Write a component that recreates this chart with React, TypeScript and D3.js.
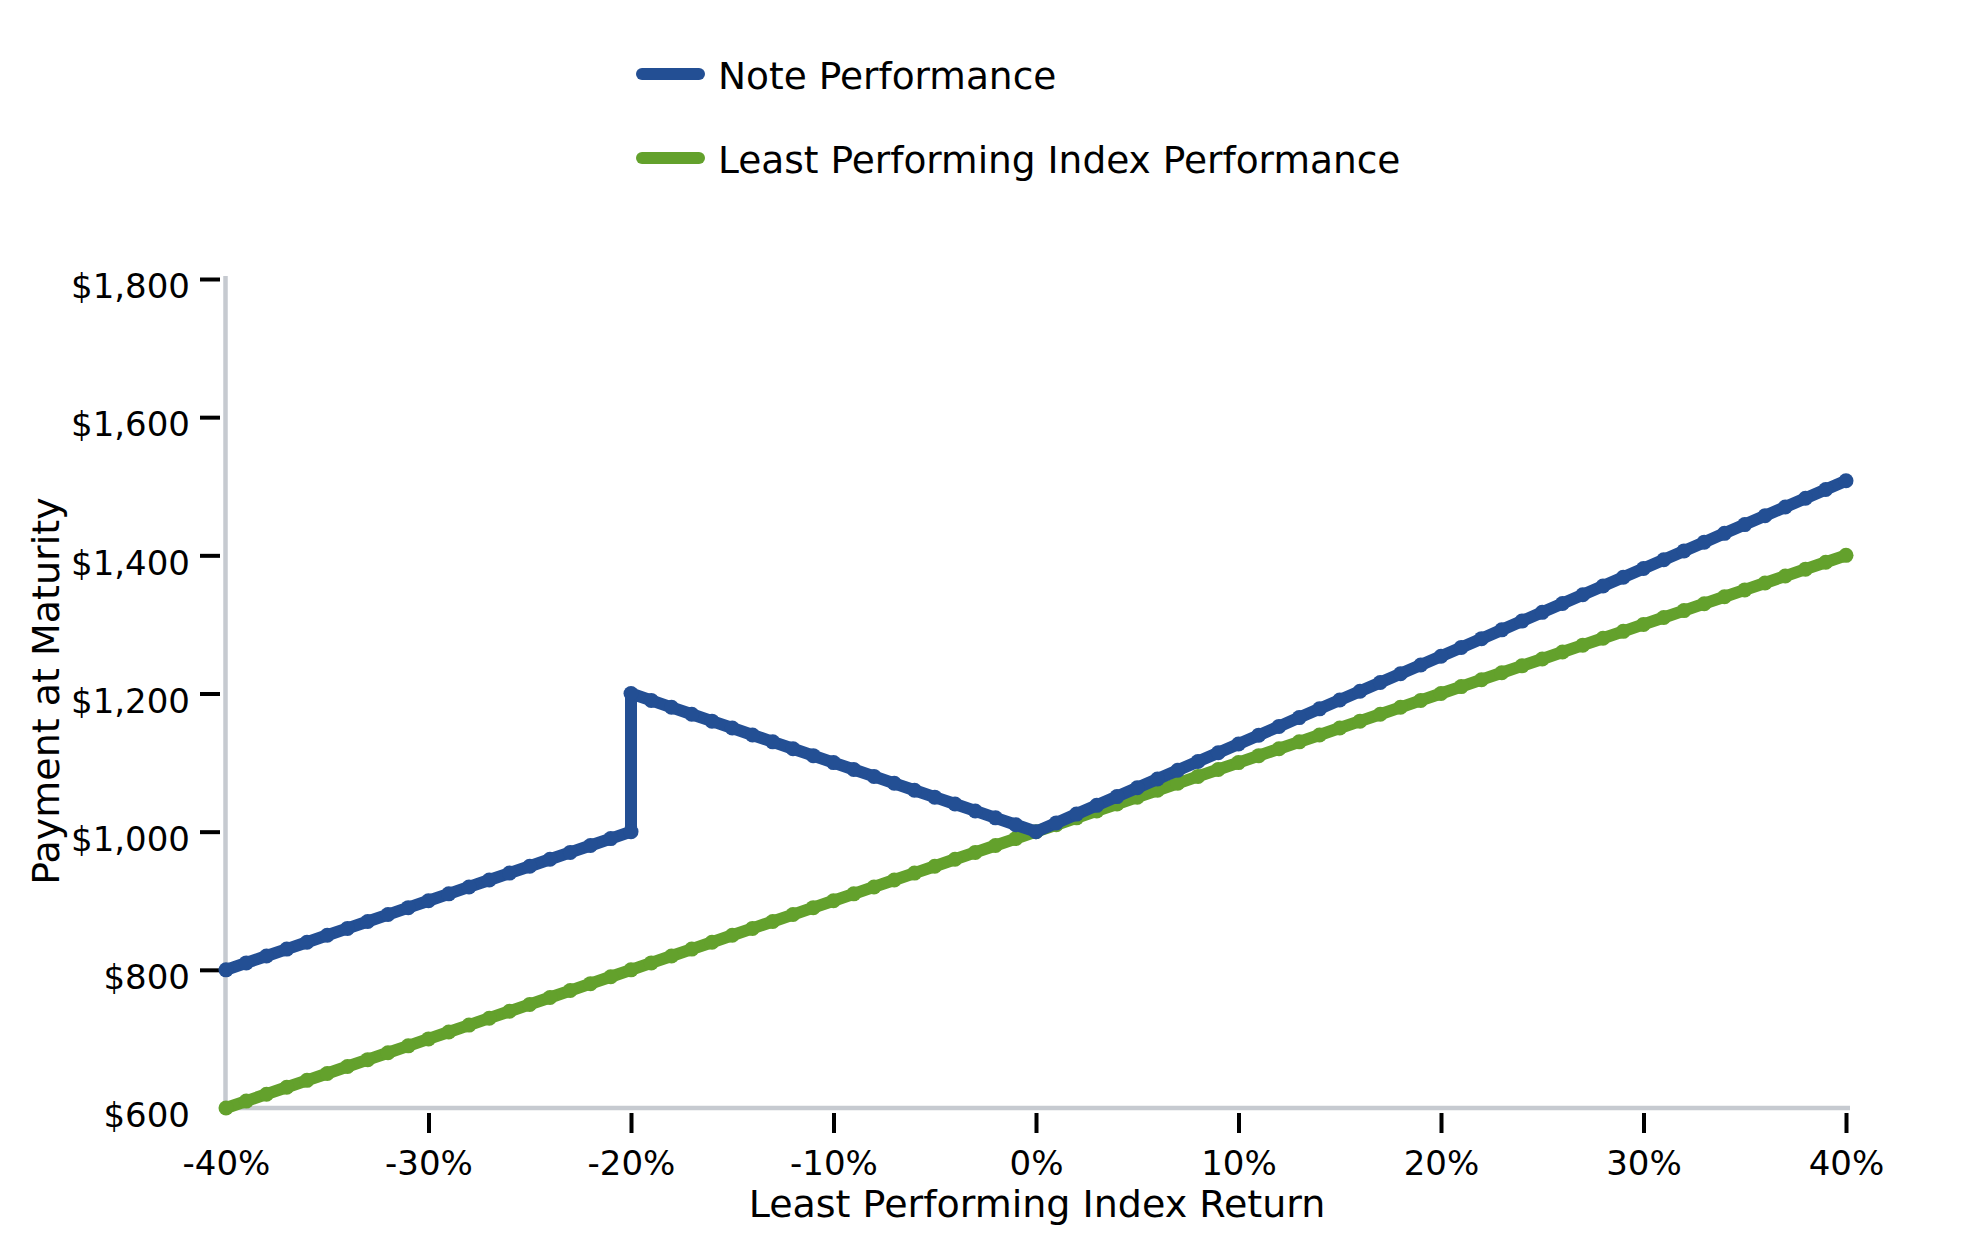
import React, { useEffect, useRef } from "react";
import * as d3 from "d3";

// least performing index return, in %
const returns = [
  -40, -39, -38, -37, -36, -35, -34, -33, -32, -31, -30, -29, -28, -27, -26,
  -25, -24, -23, -22, -21, -20, -19, -18, -17, -16, -15, -14, -13, -12, -11,
  -10, -9, -8, -7, -6, -5, -4, -3, -2, -1, 0, 1, 2, 3, 4, 5, 6, 7, 8, 9, 10,
  11, 12, 13, 14, 15, 16, 17, 18, 19, 20, 21, 22, 23, 24, 25, 26, 27, 28, 29,
  30, 31, 32, 33, 34, 35, 36, 37, 38, 39, 40,
];

const indexValues = [
  600, 610, 620, 630, 640, 650, 660, 670, 680, 690, 700, 710, 720, 730, 740,
  750, 760, 770, 780, 790, 800, 810, 820, 830, 840, 850, 860, 870, 880, 890,
  900, 910, 920, 930, 940, 950, 960, 970, 980, 990, 1000, 1010, 1020, 1030,
  1040, 1050, 1060, 1070, 1080, 1090, 1100, 1110, 1120, 1130, 1140, 1150, 1160,
  1170, 1180, 1190, 1200, 1210, 1220, 1230, 1240, 1250, 1260, 1270, 1280, 1290,
  1300, 1310, 1320, 1330, 1340, 1350, 1360, 1370, 1380, 1390, 1400,
];

// the note jumps at -20%, so that return appears twice
const noteReturns = [
  -40, -39, -38, -37, -36, -35, -34, -33, -32, -31, -30, -29, -28, -27, -26,
  -25, -24, -23, -22, -21, -20, -20, -19, -18, -17, -16, -15, -14, -13, -12,
  -11, -10, -9, -8, -7, -6, -5, -4, -3, -2, -1, 0, 1, 2, 3, 4, 5, 6, 7, 8, 9,
  10, 11, 12, 13, 14, 15, 16, 17, 18, 19, 20, 21, 22, 23, 24, 25, 26, 27, 28,
  29, 30, 31, 32, 33, 34, 35, 36, 37, 38, 39, 40,
];

const noteValues = [
  800, 810, 820, 830, 840, 850, 860, 870, 880, 890, 900, 910, 920, 930, 940,
  950, 960, 970, 980, 990, 1000, 1200, 1190, 1180, 1170, 1160, 1150, 1140,
  1130, 1120, 1110, 1100, 1090, 1080, 1070, 1060, 1050, 1040, 1030, 1020, 1010,
  1000, 1012.7, 1025.4, 1038.1, 1050.8, 1063.5, 1076.2, 1088.9, 1101.6, 1114.3,
  1127, 1139.7, 1152.4, 1165.1, 1177.8, 1190.5, 1203.2, 1215.9, 1228.6, 1241.3,
  1254, 1266.7, 1279.4, 1292.1, 1304.8, 1317.5, 1330.2, 1342.9, 1355.6, 1368.3,
  1381, 1393.7, 1406.4, 1419.1, 1431.8, 1444.5, 1457.2, 1469.9, 1482.6, 1495.3,
  1508,
];

const xTicks = [-40, -30, -20, -10, 0, 10, 20, 30, 40];
const yTicks = [600, 800, 1000, 1200, 1400, 1600, 1800];

const seriesNames = ["Note Performance", "Least Performing Index Performance"];
const seriesColors = ["#234f94", "#63a12c"];

const FONT = "DejaVu Sans, sans-serif";

const PayoffChart: React.FC = () => {
  const svgRef = useRef<SVGSVGElement>(null);

  useEffect(() => {
    const width = 1979;
    const height = 1250;
    const svg = d3.select(svgRef.current).attr("width", width).attr("height", height);
    svg.selectAll("*").remove();

    const x = d3.scaleLinear().domain([-40, 40]).range([226, 1846]);
    const y = d3.scaleLinear().domain([600, 1800]).range([1108, 279]);

    // axis lines (grey)
    svg
      .append("line")
      .attr("x1", 225.5)
      .attr("x2", 225.5)
      .attr("y1", 276)
      .attr("y2", 1110)
      .attr("stroke", "#c6cad0")
      .attr("stroke-width", 4.5);
    svg
      .append("line")
      .attr("x1", 224)
      .attr("x2", 1850)
      .attr("y1", 1108)
      .attr("y2", 1108)
      .attr("stroke", "#c6cad0")
      .attr("stroke-width", 4.5);

    // y axis ticks + labels
    const yAxis = svg
      .append("g")
      .attr("transform", "translate(220,0)")
      .call(
        d3
          .axisLeft(y)
          .tickValues(yTicks)
          .tickSize(20)
          .tickPadding(10)
          .tickFormat((d) => "$" + d3.format(",")(d as number))
      );
    yAxis.select(".domain").remove();
    yAxis.attr("font-family", FONT).attr("font-size", 34);
    yAxis.selectAll(".tick line").attr("stroke", "#000").attr("stroke-width", 4);
    yAxis
      .selectAll<SVGGElement, number>(".tick")
      .filter((d) => d === 600)
      .select("line")
      .remove();
    yAxis.selectAll(".tick text").attr("fill", "#000").attr("dy", "0.55em");

    // x axis ticks + labels
    const xAxis = svg
      .append("g")
      .attr("transform", "translate(0,1113)")
      .call(
        d3
          .axisBottom(x)
          .tickValues(xTicks)
          .tickSize(20)
          .tickPadding(18)
          .tickFormat((d) => d + "%")
      );
    xAxis.select(".domain").remove();
    xAxis.attr("font-family", FONT).attr("font-size", 34);
    xAxis.selectAll(".tick line").attr("stroke", "#000").attr("stroke-width", 4);
    xAxis
      .selectAll<SVGGElement, number>(".tick")
      .filter((d) => d === -40)
      .select("line")
      .remove();
    xAxis.selectAll(".tick text").attr("fill", "#000");

    // axis titles
    svg
      .append("text")
      .attr("x", 1037)
      .attr("y", 1217)
      .attr("text-anchor", "middle")
      .attr("font-family", FONT)
      .attr("font-size", 38)
      .attr("fill", "#000")
      .text("Least Performing Index Return");
    svg
      .append("text")
      .attr("transform", "translate(59,691) rotate(-90)")
      .attr("text-anchor", "middle")
      .attr("font-family", FONT)
      .attr("font-size", 38)
      .attr("fill", "#000")
      .text("Payment at Maturity");

    // series
    const series = [
      { xs: returns, ys: indexValues, color: seriesColors[1] },
      { xs: noteReturns, ys: noteValues, color: seriesColors[0] },
    ];

    series.forEach((s) => {
      const pts: [number, number][] = s.xs.map((r, i) => [r, s.ys[i]]);
      const line = d3
        .line<[number, number]>()
        .x((d) => x(d[0]))
        .y((d) => y(d[1]));
      svg
        .append("path")
        .datum(pts)
        .attr("d", line)
        .attr("fill", "none")
        .attr("stroke", s.color)
        .attr("stroke-width", 12)
        .attr("stroke-linejoin", "round")
        .attr("stroke-linecap", "round");
      svg
        .append("g")
        .selectAll("circle")
        .data(pts)
        .enter()
        .append("circle")
        .attr("cx", (d) => x(d[0]))
        .attr("cy", (d) => y(d[1]))
        .attr("r", 7.5)
        .attr("fill", s.color);
    });

    // legend
    const legend = svg.append("g");
    seriesNames.forEach((name, i) => {
      const ly = 74 + i * 84;
      legend
        .append("line")
        .attr("x1", 642)
        .attr("x2", 699)
        .attr("y1", ly)
        .attr("y2", ly)
        .attr("stroke", seriesColors[i])
        .attr("stroke-width", 12)
        .attr("stroke-linecap", "round");
      legend
        .append("text")
        .attr("x", 718)
        .attr("y", ly + 15)
        .attr("font-family", FONT)
        .attr("font-size", 37.5)
        .attr("fill", "#000")
        .text(name);
    });
  }, []);

  return (
    <div style={{ position: "absolute", left: 0, top: 0 }}>
      <svg ref={svgRef}></svg>
    </div>
  );
};

export default function App() {
  return <PayoffChart />;
}
